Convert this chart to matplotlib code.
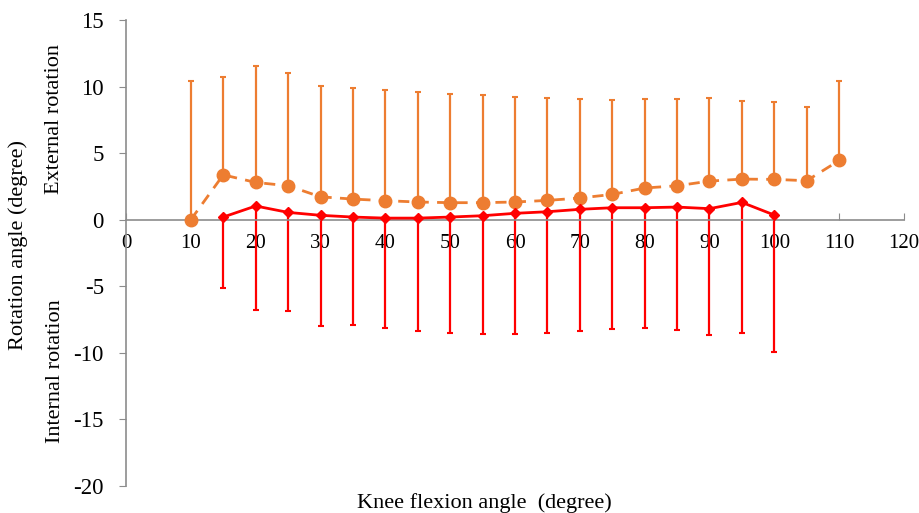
import matplotlib
matplotlib.use("Agg")
import matplotlib.pyplot as plt

ORANGE, RED, AXIS = "#ED7D31", "#FF0000", "#8c8c8c"

plt.rcParams.update({
    "font.family": "Liberation Serif",
    "font.size": 16,
    "axes.unicode_minus": False,
})

# external rotation (mean, +SD)
ext_x = [10, 15, 20, 25, 30, 35, 40, 45, 50, 55, 60, 65, 70, 75, 80, 85, 90, 95, 100, 105, 110]
ext_mean = [0.0, 3.37, 2.8, 2.55, 1.72, 1.55, 1.43, 1.33, 1.28, 1.28, 1.33, 1.45, 1.63,
            1.9, 2.38, 2.55, 2.9, 3.05, 3.03, 2.93, 4.45]
ext_top = [10.43, 10.75, 11.53, 11.0, 10.05, 9.93, 9.75, 9.6, 9.43, 9.33, 9.2, 9.15, 9.05,
           9.0, 9.1, 9.05, 9.13, 8.93, 8.83, 8.5, 10.43]

# internal rotation (mean, -SD)
int_x = [15, 20, 25, 30, 35, 40, 45, 50, 55, 60, 65, 70, 75, 80, 85, 90, 95, 100]
int_mean = [0.2, 1.03, 0.55, 0.33, 0.2, 0.12, 0.12, 0.2, 0.3, 0.48, 0.6, 0.78, 0.9,
            0.9, 0.95, 0.83, 1.3, 0.35]
int_bottom = [-5.13, -6.8, -6.88, -8.0, -7.88, -8.13, -8.33, -8.5, -8.58, -8.58, -8.5,
              -8.38, -8.23, -8.15, -8.3, -8.68, -8.5, -9.95]

fig = plt.figure(figsize=(9.19, 5.13), dpi=100)
ax = fig.add_axes([126 / 919, 1 - 486 / 513, (904 - 126) / 919, (486 - 20) / 513])

ext_err = [[0] * len(ext_x), [t - m for t, m in zip(ext_top, ext_mean)]]
ax.errorbar(ext_x, ext_mean, yerr=ext_err, fmt="none", ecolor=ORANGE, elinewidth=1.6,
            capsize=2.5, capthick=1.5, zorder=2)
ax.plot(ext_x, ext_mean, "--", color=ORANGE, linewidth=2, dashes=(4, 3),
        marker="o", markersize=9, zorder=3)

int_err = [[m - b for b, m in zip(int_bottom, int_mean)], [0] * len(int_x)]
ax.errorbar(int_x, int_mean, yerr=int_err, fmt="none", ecolor=RED, elinewidth=1.6,
            capsize=2.5, capthick=1.5, zorder=2)
ax.plot(int_x, int_mean, "-", color=RED, linewidth=2, marker="D", markersize=5.5, zorder=3)

ax.set_xlim(0, 120)
ax.set_ylim(-20, 15)
ax.set_xticks(range(0, 121, 10))
ax.set_yticks(range(-20, 16, 5))
ax.spines["top"].set_visible(False)
ax.spines["right"].set_visible(False)
ax.spines["bottom"].set_position(("data", 0))
for s in ("left", "bottom"):
    ax.spines[s].set_color(AXIS)
    ax.spines[s].set_linewidth(1.2)
ax.tick_params(axis="x", direction="in", length=5, color=AXIS, pad=10, labelsize=15)
ax.tick_params(axis="y", direction="out", length=5, color=AXIS, pad=11, labelsize=16.5)

fig.text(484 / 919, 1 - 503 / 513, "Knee flexion angle  (degree)", ha="center", va="center",
         fontsize=16)
fig.text(18 / 919, 1 - 245 / 513, "Rotation angle (degree)", rotation=90, ha="center",
         va="center", fontsize=16)
fig.text(55 / 919, 1 - 119 / 513, "External rotation", rotation=90, ha="center",
         va="center", fontsize=16)
fig.text(55 / 919, 1 - 371 / 513, "Internal rotation", rotation=90, ha="center",
         va="center", fontsize=16)

fig.savefig("out.png", dpi=100)
